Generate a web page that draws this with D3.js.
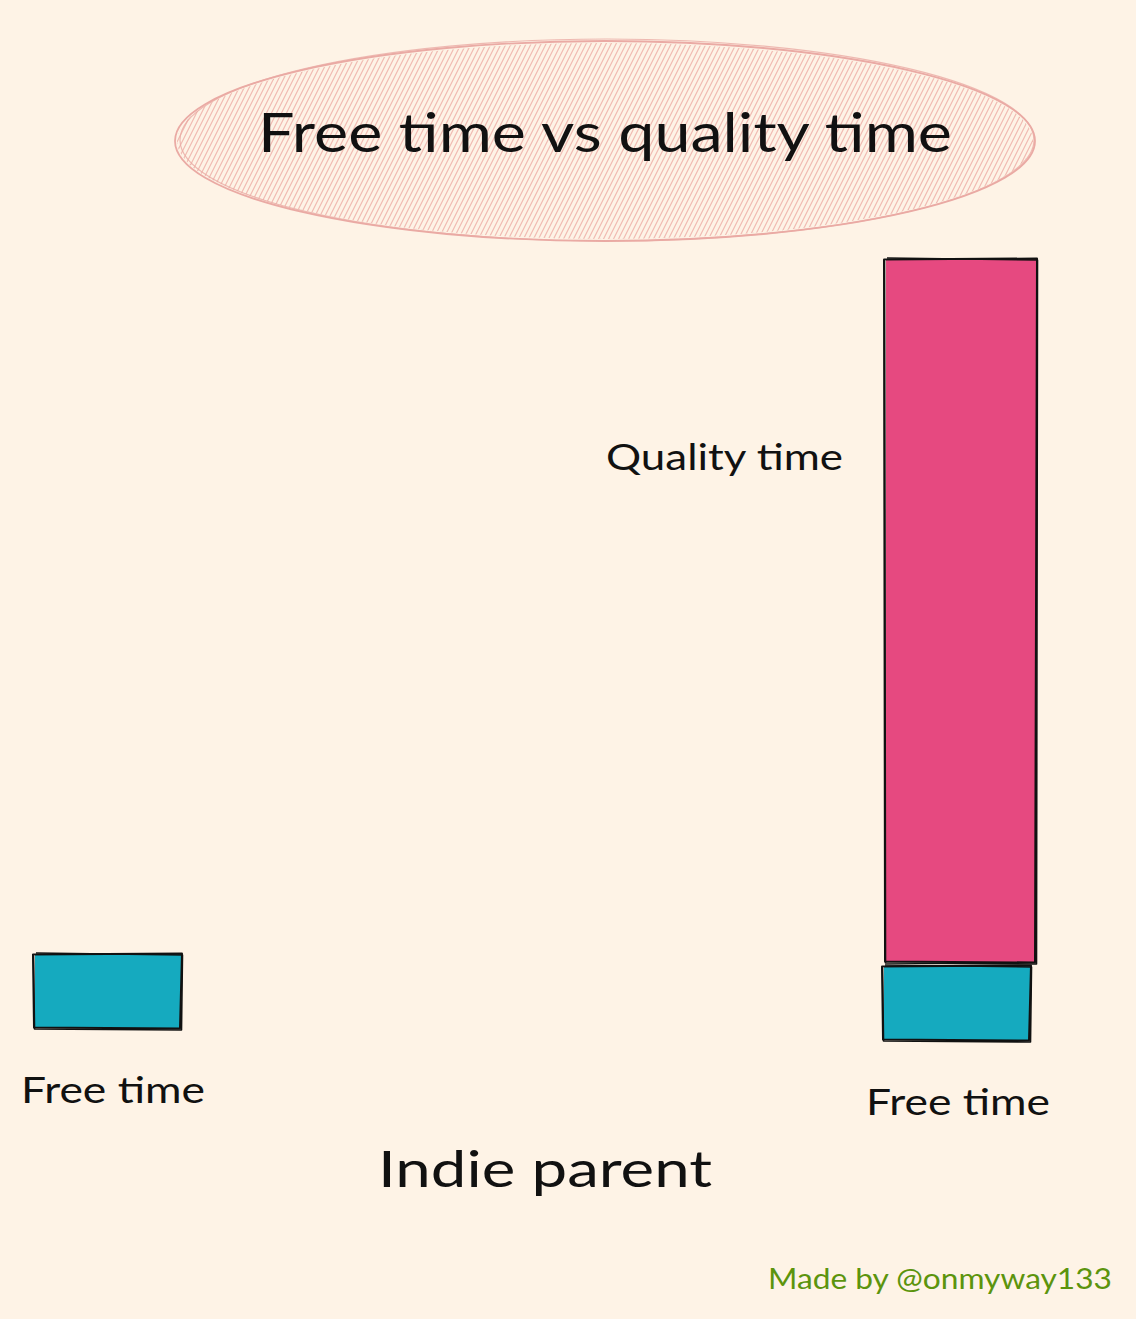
<!DOCTYPE html>
<html>
<head>
<meta charset="utf-8">
<script src="https://cdn.jsdelivr.net/npm/d3@7"></script>
<style>
  html, body { margin: 0; padding: 0; background: #fef3e6; }
  svg { display: block; }
  text { font-family: "Lato", "Noto Sans", sans-serif; fill: #111; }
</style>
</head>
<body>
<svg id="chart" width="1136" height="1319"></svg>
<script>
// ---------------- data ----------------
const groups = ["Other", "Indie parent"];
const seriesKeys = ["Free time", "Quality time"];
const freeTime = [1, 1];
const qualityTime = [0, 9.5];
const titleText = "Free time vs quality time";
const groupTitle = "Indie parent";
const creditText = "Made by @onmyway133";

// ---------------- style / layout ----------------
const W = 1136, H = 1319;
const colors = { "Free time": "#15aabf", "Quality time": "#e64980" };
const bg = "#fef3e6";
const groupShift = [-6, 6];          // hand-drawn baseline wobble per group
const svg = d3.select("#chart");
svg.append("rect").attr("width", W).attr("height", H).attr("fill", bg);

const x = d3.scaleBand().domain(groups).range([35, 1032]).paddingInner(0.8257).paddingOuter(0);
const y = d3.scaleLinear().domain([0, 10.5]).range([1034, 257]);

const rows = groups.map((g, i) => ({ group: g, "Free time": freeTime[i], "Quality time": qualityTime[i] }));
const stacked = d3.stack().keys(seriesKeys)(rows);

// sketchy rectangle: two slightly offset strokes
function sketchRect(g, x0, y0, w, h) {
  const p1 = d3.path();
  p1.moveTo(x0 - 2, y0 + 0.5); p1.lineTo(x0 + w + 1, y0 - 0.5);
  p1.lineTo(x0 + w - 1, y0 + h + 0.5); p1.lineTo(x0 - 1, y0 + h - 0.5); p1.closePath();
  const p2 = d3.path();
  p2.moveTo(x0 + 1, y0 - 1); p2.lineTo(x0 + w + 1.5, y0 + 1);
  p2.lineTo(x0 + w + 0.5, y0 + h + 2); p2.lineTo(x0 - 0.5, y0 + h + 1); p2.lineTo(x0 - 1.5, y0 + 2);
  g.append("path").attr("d", p1.toString()).attr("fill", "none").attr("stroke", "#111").attr("stroke-width", 2).attr("stroke-linejoin", "round");
  g.append("path").attr("d", p2.toString()).attr("fill", "none").attr("stroke", "#111").attr("stroke-width", 1.6).attr("stroke-linejoin", "round");
}

// ---------------- title ellipse with hachure ----------------
const cx = 605, cy = 141, rx = 430, ry = 100;
const defs = svg.append("defs");
defs.append("clipPath").attr("id", "ellClip")
  .append("ellipse").attr("cx", cx).attr("cy", cy).attr("rx", rx - 2).attr("ry", ry - 2);
const hatch = svg.append("g").attr("clip-path", "url(#ellClip)");
const slope = 0.5; // dx per dy
const hatchStarts = d3.range(cx - rx - 120, cx + rx + 20, 5);
hatch.selectAll("line").data(hatchStarts).join("line")
  .attr("x1", d => d).attr("y1", cy + ry + 5)
  .attr("x2", d => d + slope * (2 * ry + 10)).attr("y2", cy - ry - 5)
  .attr("stroke", "#efb2aa").attr("stroke-width", 1.1).attr("opacity", 0.9);
svg.append("ellipse").attr("cx", cx).attr("cy", cy).attr("rx", rx).attr("ry", ry)
  .attr("fill", "none").attr("stroke", "#eaaaa4").attr("stroke-width", 1.8);
svg.append("ellipse").attr("cx", cx + 2).attr("cy", cy - 1).attr("rx", rx - 3).attr("ry", ry + 1)
  .attr("fill", "none").attr("stroke", "#eaaaa4").attr("stroke-width", 1.2).attr("opacity", 0.8);

svg.append("text").attr("x", 605).attr("y", 152).attr("text-anchor", "middle")
  .attr("font-size", 54).attr("textLength", 694).attr("lengthAdjust", "spacingAndGlyphs")
  .text(titleText);

// ---------------- bars ----------------
const barG = svg.append("g");
stacked.forEach((layer, li) => {
  layer.forEach((d, gi) => {
    if (d[1] - d[0] <= 0) return;
    const shift = groupShift[gi];
    const x0 = x(groups[gi]) + (li === 1 ? 2 : 0);
    const w = x.bandwidth() + (li === 1 ? 2 : -2);
    const top = y(d[1]) + shift + (li === 1 ? -4 : 0);
    const bot = y(d[0]) + shift - (li === 1 && d[0] > 0 ? 4 : 0);
    const g = barG.append("g");
    g.append("rect").attr("x", x0).attr("y", top).attr("width", w).attr("height", bot - top)
      .attr("fill", colors[layer.key]);
    sketchRect(g, x0, top, w, bot - top);
  });
});

// ---------------- labels ----------------
groups.forEach((g, gi) => {
  svg.append("text")
    .attr("x", x(g) + x.bandwidth() / 2 + (gi === 0 ? 4 : 0))
    .attr("y", y(0) + groupShift[gi] + 75)
    .attr("text-anchor", "middle").attr("font-size", 36)
    .attr("textLength", 184).attr("lengthAdjust", "spacingAndGlyphs")
    .text(seriesKeys[0]);
});
// Quality time label to the left of the pink segment
const qi = 1;
svg.append("text")
  .attr("x", x(groups[qi]) - 41)
  .attr("y", y(7.7) + groupShift[qi])
  .attr("text-anchor", "end").attr("font-size", 36)
  .attr("textLength", 237).attr("lengthAdjust", "spacingAndGlyphs")
  .text(seriesKeys[1]);

svg.append("text").attr("x", 545).attr("y", 1187).attr("text-anchor", "middle")
  .attr("font-size", 50).attr("textLength", 334).attr("lengthAdjust", "spacingAndGlyphs")
  .text(groupTitle);

svg.append("text").attr("x", 1112).attr("y", 1289).attr("text-anchor", "end")
  .attr("font-size", 28).attr("fill", "#5c940d").style("fill", "#5c940d")
  .attr("textLength", 344).attr("lengthAdjust", "spacingAndGlyphs")
  .text(creditText);
</script>
</body>
</html>
